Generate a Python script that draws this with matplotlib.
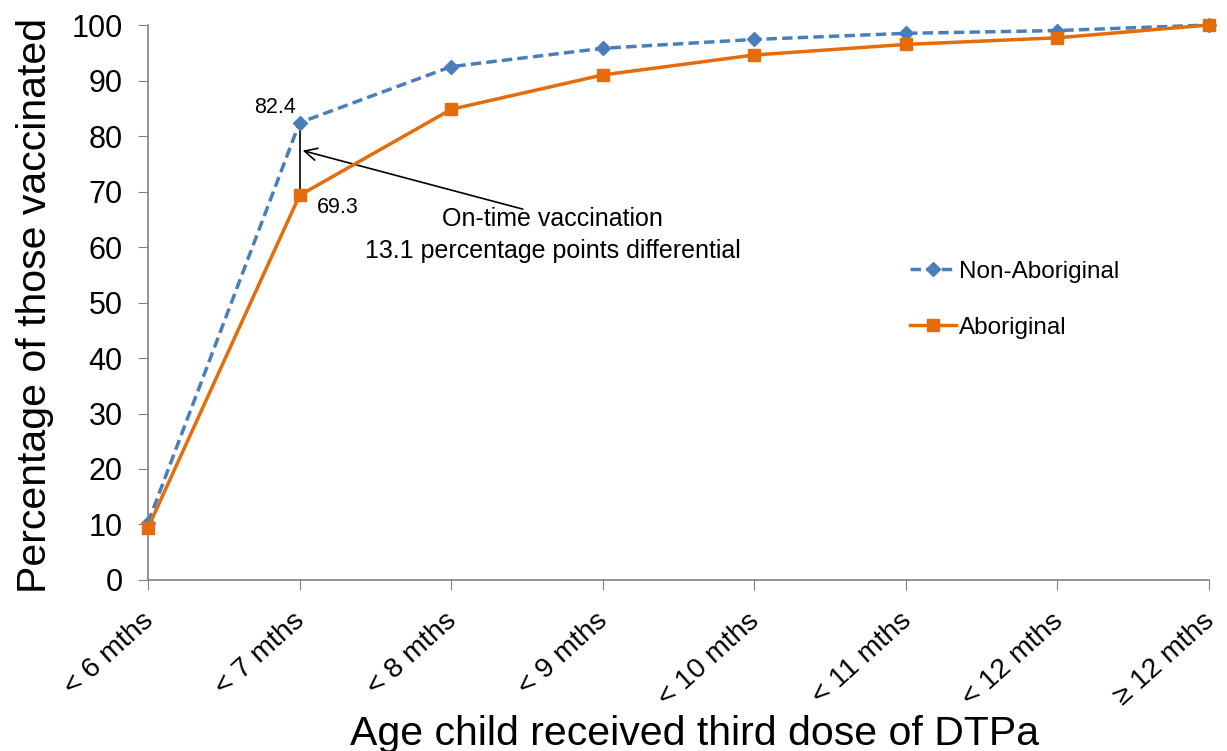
import matplotlib
matplotlib.use("Agg")
import matplotlib.pyplot as plt
from matplotlib.transforms import ScaledTranslation

plt.rcParams['font.family'] = ['Liberation Sans', 'DejaVu Sans']

categories = ["< 6 mths", "< 7 mths", "< 8 mths", "< 9 mths", "< 10 mths",
              "< 11 mths", "< 12 mths", "\u2265 12 mths"]
non_aboriginal = [10.3, 82.4, 92.5, 95.8, 97.4, 98.5, 99.0, 100.0]
aboriginal = [9.4, 69.3, 84.8, 91.0, 94.6, 96.5, 97.7, 100.0]
y_ticks = list(range(0, 101, 10))

blue = "#4A7EBB"
orange = "#E46C0A"

fig = plt.figure(figsize=(12.27, 7.51), dpi=100)
ax = fig.add_axes([0.1206, 0.2277, 0.8647, 0.739])
x = list(range(len(categories)))

ax.plot(x, non_aboriginal, color=blue, linestyle=(0, (3, 1.5)), linewidth=2.5,
        marker="D", markersize=7, label="Non-Aboriginal", clip_on=False, zorder=3)
ax.plot(x, aboriginal, color=orange, linestyle="-", linewidth=2.5,
        marker="s", markersize=9, label="Aboriginal", clip_on=False, zorder=4)

ax.set_xlim(0, len(categories) - 1)
ax.set_ylim(0, 100)
ax.set_yticks(y_ticks)
ax.set_xticks(x)
ax.set_xticklabels(categories, rotation=42, ha="right", rotation_mode="anchor")
ax.tick_params(axis="both", color="#808080", length=7.2, direction="out")
ax.tick_params(axis="x", labelsize=20.5, pad=13)
ax.tick_params(axis="y", labelsize=22, pad=11)
shift = ScaledTranslation(-0.07, 0.0, fig.dpi_scale_trans)
for lbl in ax.get_xticklabels():
    lbl.set_transform(lbl.get_transform() + shift)
for s in ["top", "right"]:
    ax.spines[s].set_visible(False)
for s in ["left", "bottom"]:
    ax.spines[s].set_color("#808080")
    ax.spines[s].set_linewidth(1.2)

ax.set_ylabel("Percentage of those vaccinated", fontsize=29.5)
ax.yaxis.set_label_coords(-0.089, 0.4955)
ax.set_xlabel("Age child received third dose of DTPa", fontsize=29.5)
ax.xaxis.set_label_coords(0.515, -0.2425)

# annotation
ax.plot([1, 1], [aboriginal[1], non_aboriginal[1]], color="black", linewidth=1.2, zorder=2)
ax.text(0.84, 85.2, f"{non_aboriginal[1]:.1f}", fontsize=15.5, ha="center", va="center")
ax.text(1.25, 67.2, f"{aboriginal[1]:.1f}", fontsize=15.5, ha="center", va="center")
ax.annotate("", xy=(1.003, 77.5), xytext=(2.49, 66.7),
            arrowprops=dict(arrowstyle="->", color="black", lw=1.2, mutation_scale=22))
ax.text(2.67, 62.2, "On-time vaccination\n13.1 percentage points differential",
        fontsize=18, ha="center", va="center", linespacing=1.4)

ax.legend(loc="upper left", bbox_to_anchor=(0.6975, 0.615), frameon=False, fontsize=17.5,
          labelspacing=1.4, handlelength=1.9, handletextpad=0.1)

fig.savefig("out.png", dpi=100)
